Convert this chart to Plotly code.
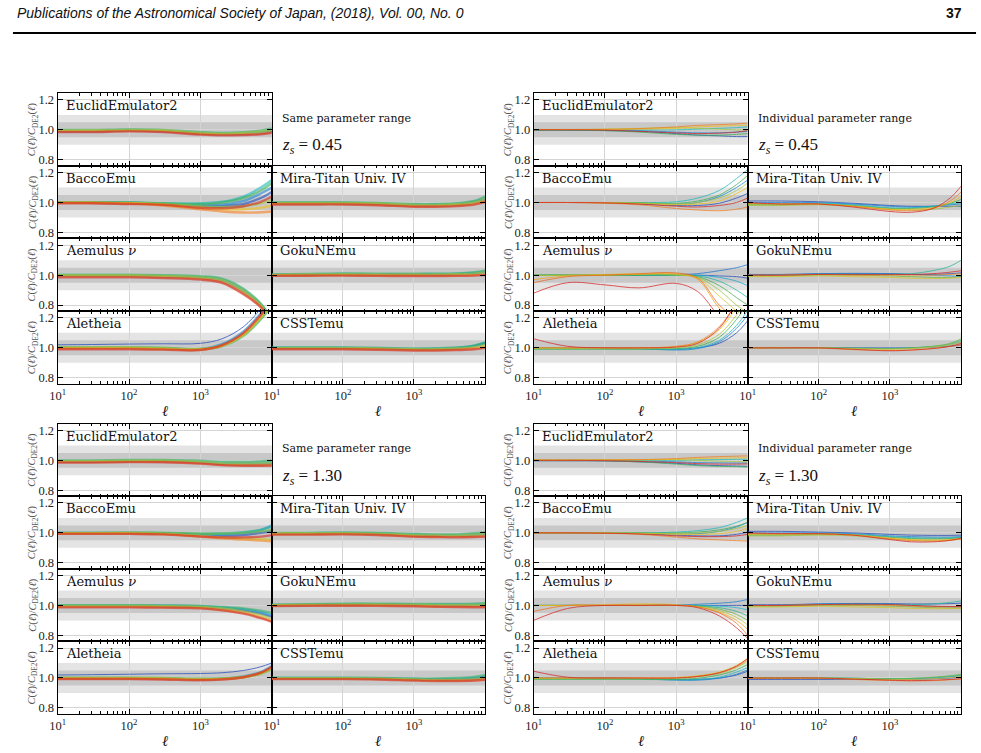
import plotly.graph_objects as go
from plotly.colors import sample_colorscale

# ---------------- data ----------------
ELL = [10, 30, 100, 300, 1000, 2000, 4000, 7000, 10000]
X_TICKS = [10, 100, 1000]
X_TICK_LABELS = ["10<sup>1</sup>", "10<sup>2</sup>", "10<sup>3</sup>"]
X_MINOR = [20, 30, 40, 50, 60, 70, 80, 90,
           200, 300, 400, 500, 600, 700, 800, 900,
           2000, 3000, 4000, 5000, 6000, 7000, 8000, 9000]
Y_TICKS = [0.8, 1.0, 1.2]
Y_TICK_LABELS = ["0.8", "1.0", "1.2"]
BAND_OUTER = [0.90, 1.10]
BAND_INNER = [0.95, 1.05]
EMULATORS = ["EuclidEmulator2", "BaccoEmu", "Mira-Titan Univ. IV", "Aemulus ν",
             "GokuNEmu", "Aletheia", "CSSTemu"]
BLOCK_TITLES = ["Same parameter range", "Individual parameter range",
                "Same parameter range", "Individual parameter range"]
BLOCK_ZS = ["0.45", "0.45", "1.30", "1.30"]

# ---- z_s = 0.45, same parameter range (lines ordered blue -> red)
EUCLID_SAME_Z045 = [
    [0.990, 0.990, 0.995, 0.990, 0.975, 0.970, 0.972, 0.978, 0.990],
    [0.995, 0.995, 1.000, 0.995, 0.980, 0.975, 0.978, 0.985, 0.995],
    [1.000, 1.000, 1.003, 1.000, 0.985, 0.980, 0.985, 0.995, 1.010],
    [0.995, 0.997, 1.000, 0.997, 0.980, 0.975, 0.980, 0.988, 1.000],
    [0.990, 0.990, 0.993, 0.990, 0.972, 0.968, 0.970, 0.975, 0.985],
    [0.985, 0.985, 0.990, 0.985, 0.968, 0.963, 0.965, 0.970, 0.980],
]
BACCO_SAME_Z045 = [
    [0.998, 0.998, 0.995, 0.988, 0.975, 0.975, 0.990, 1.030, 1.070],
    [1.000, 1.000, 0.998, 0.990, 0.980, 0.985, 1.010, 1.060, 1.100],
    [1.000, 1.000, 1.000, 0.995, 0.995, 1.005, 1.040, 1.100, 1.150],
    [1.000, 1.000, 1.000, 0.995, 0.990, 1.000, 1.030, 1.080, 1.130],
    [1.000, 1.000, 0.997, 0.990, 0.975, 0.970, 0.975, 0.995, 1.020],
    [0.998, 0.998, 0.995, 0.985, 0.965, 0.955, 0.955, 0.965, 0.980],
    [0.997, 0.997, 0.993, 0.980, 0.955, 0.940, 0.933, 0.935, 0.940],
    [0.995, 0.995, 0.990, 0.985, 0.965, 0.962, 0.975, 1.005, 1.040],
]
MIRA_SAME_Z045 = [
    [0.995, 0.995, 0.995, 0.990, 0.980, 0.980, 0.985, 1.000, 1.020],
    [0.998, 0.998, 0.998, 0.993, 0.985, 0.985, 0.990, 1.005, 1.030],
    [1.000, 1.000, 1.000, 0.997, 0.990, 0.990, 0.995, 1.010, 1.040],
    [0.997, 0.997, 0.997, 0.993, 0.983, 0.982, 0.988, 1.000, 1.025],
    [0.990, 0.990, 0.990, 0.985, 0.975, 0.975, 0.980, 0.990, 1.010],
    [0.987, 0.987, 0.987, 0.982, 0.972, 0.972, 0.976, 0.986, 1.003],
]
AEMULUS_SAME_Z045 = [
    [0.995, 0.995, 0.995, 0.990, 0.983, 0.962, 0.890, 0.800, 0.700],
    [1.000, 1.000, 1.000, 0.995, 0.988, 0.970, 0.900, 0.805, 0.700],
    [1.003, 1.003, 1.003, 1.000, 0.993, 0.977, 0.910, 0.810, 0.705],
    [1.000, 1.000, 1.000, 0.995, 0.986, 0.967, 0.895, 0.800, 0.700],
    [0.990, 0.990, 0.990, 0.985, 0.975, 0.954, 0.880, 0.790, 0.695],
    [0.985, 0.985, 0.985, 0.980, 0.970, 0.948, 0.872, 0.785, 0.690],
]
GOKU_SAME_Z045 = [
    [1.000, 1.002, 1.005, 1.003, 1.003, 1.003, 1.005, 1.010, 1.020],
    [1.003, 1.005, 1.008, 1.006, 1.007, 1.008, 1.010, 1.015, 1.025],
    [1.005, 1.008, 1.012, 1.010, 1.010, 1.010, 1.012, 1.020, 1.030],
    [1.002, 1.004, 1.006, 1.004, 1.004, 1.004, 1.006, 1.010, 1.020],
    [0.998, 0.998, 1.000, 0.998, 0.997, 0.997, 0.998, 1.000, 1.005],
    [0.995, 0.996, 0.997, 0.995, 0.994, 0.994, 0.995, 0.997, 1.000],
]
ALETHEIA_SAME_Z045 = [
    [1.020, 1.022, 1.025, 1.027, 1.030, 1.060, 1.140, 1.260, 1.350],
    [1.000, 1.000, 1.000, 0.997, 0.993, 1.025, 1.110, 1.230, 1.320],
    [1.000, 1.000, 1.000, 0.997, 0.990, 1.010, 1.080, 1.190, 1.280],
    [1.003, 1.003, 1.003, 1.000, 0.993, 1.015, 1.085, 1.195, 1.285],
    [1.000, 1.000, 1.000, 0.995, 0.990, 1.012, 1.085, 1.200, 1.290],
    [0.995, 0.995, 0.995, 0.990, 0.988, 1.015, 1.095, 1.215, 1.300],
    [0.990, 0.990, 0.990, 0.988, 0.985, 1.018, 1.100, 1.220, 1.310],
]
CSST_SAME_Z045 = [
    [0.998, 0.998, 0.998, 0.995, 0.990, 0.990, 0.995, 1.010, 1.030],
    [1.000, 1.000, 1.000, 0.997, 0.993, 0.995, 1.000, 1.015, 1.035],
    [1.002, 1.002, 1.002, 1.000, 0.995, 0.997, 1.002, 1.015, 1.035],
    [0.998, 0.998, 0.998, 0.996, 0.990, 0.990, 0.995, 1.005, 1.020],
    [0.993, 0.993, 0.993, 0.990, 0.985, 0.985, 0.988, 0.995, 1.005],
    [0.990, 0.990, 0.990, 0.987, 0.982, 0.982, 0.985, 0.990, 1.000],
]

# ---- z_s = 0.45, individual parameter range
EUCLID_INDIV_Z045 = [
    [0.997, 0.997, 0.995, 0.990, 0.975, 0.965, 0.960, 0.955, 0.955],
    [1.000, 1.000, 1.000, 0.995, 0.985, 0.980, 0.980, 0.985, 0.990],
    [1.000, 1.000, 1.000, 1.000, 1.000, 1.005, 1.010, 1.015, 1.020],
    [0.998, 0.998, 0.995, 0.985, 0.970, 0.965, 0.965, 0.970, 0.975],
    [1.003, 1.003, 1.005, 1.010, 1.015, 1.010, 1.005, 1.000, 1.000],
    [1.002, 1.002, 1.003, 1.005, 1.010, 1.020, 1.025, 1.030, 1.030],
    [1.002, 1.002, 1.003, 1.008, 1.020, 1.030, 1.035, 1.040, 1.045],
    [1.000, 1.000, 0.998, 0.990, 0.980, 0.975, 0.978, 0.985, 0.995],
]
BACCO_INDIV_Z045 = [
    [1.000, 1.000, 0.998, 0.990, 0.980, 0.980, 0.995, 1.030, 1.060],
    [1.000, 1.000, 1.000, 0.995, 0.990, 1.000, 1.040, 1.100, 1.150],
    [1.000, 1.000, 1.000, 1.000, 1.005, 1.030, 1.080, 1.160, 1.220],
    [1.000, 1.000, 1.000, 0.998, 0.995, 1.010, 1.050, 1.120, 1.180],
    [1.000, 1.000, 1.000, 0.997, 0.990, 1.000, 1.030, 1.080, 1.130],
    [1.000, 1.000, 0.998, 0.993, 0.985, 0.990, 1.010, 1.060, 1.100],
    [1.000, 1.000, 0.995, 0.985, 0.960, 0.950, 0.945, 0.955, 0.970],
    [1.000, 1.000, 0.998, 0.990, 0.975, 0.970, 0.980, 1.000, 1.030],
]
MIRA_INDIV_Z045 = [
    [1.010, 1.010, 1.005, 0.995, 0.980, 0.975, 0.975, 0.975, 0.975],
    [1.000, 1.000, 1.000, 0.990, 0.975, 0.970, 0.975, 0.985, 0.990],
    [0.990, 0.990, 0.995, 0.985, 0.965, 0.965, 0.975, 0.990, 1.000],
    [0.985, 0.985, 0.990, 0.980, 0.960, 0.960, 0.970, 0.995, 1.020],
    [0.980, 0.980, 0.985, 0.975, 0.955, 0.950, 0.955, 0.970, 0.980],
    [0.990, 0.990, 0.990, 0.975, 0.955, 0.955, 0.965, 1.000, 1.040],
    [0.995, 0.990, 0.990, 0.975, 0.950, 0.945, 0.960, 1.010, 1.070],
    [1.000, 0.990, 0.990, 0.970, 0.940, 0.935, 0.960, 1.030, 1.110],
]
AEMULUS_INDIV_Z045 = [
    [1.000, 1.000, 1.000, 1.000, 1.000, 1.000, 0.995, 0.990, 0.980],
    [1.000, 1.000, 1.000, 1.000, 1.005, 1.010, 1.030, 1.050, 1.070],
    [1.000, 1.000, 1.000, 1.000, 1.000, 1.000, 0.985, 0.960, 0.930],
    [1.000, 1.000, 1.000, 1.000, 1.000, 0.995, 0.960, 0.900, 0.850],
    [1.000, 1.000, 1.000, 1.000, 1.000, 0.990, 0.930, 0.850, 0.800],
    [1.000, 1.000, 1.000, 1.005, 1.000, 0.985, 0.900, 0.800, 0.750],
    [1.000, 1.000, 1.005, 1.010, 1.005, 0.980, 0.860, 0.760, 0.700],
    [0.970, 0.995, 1.000, 1.005, 1.010, 0.970, 0.780, 0.680, 0.600],
    [0.950, 0.990, 1.000, 1.010, 1.015, 0.980, 0.800, 0.700, 0.600],
    [0.880, 0.950, 0.935, 0.915, 0.945, 0.890, 0.720, 0.600, 0.550],
]
GOKU_INDIV_Z045 = [
    [1.005, 1.005, 1.010, 1.012, 1.010, 1.005, 1.005, 1.010, 1.015],
    [1.000, 1.000, 1.010, 1.010, 1.010, 1.005, 1.000, 0.995, 0.990],
    [1.000, 1.000, 1.005, 1.005, 1.005, 1.010, 1.030, 1.060, 1.100],
    [0.995, 0.995, 1.000, 1.000, 0.995, 0.990, 0.985, 0.985, 0.990],
    [0.990, 0.990, 0.995, 0.990, 0.985, 0.980, 0.978, 0.980, 0.985],
    [1.000, 1.000, 1.005, 1.000, 1.000, 1.000, 1.000, 1.005, 1.010],
    [1.000, 1.000, 1.005, 1.005, 1.005, 1.005, 1.010, 1.020, 1.030],
]
ALETHEIA_INDIV_Z045 = [
    [1.000, 1.000, 1.000, 0.997, 0.990, 1.000, 1.030, 1.100, 1.180],
    [1.000, 1.000, 1.000, 0.995, 0.985, 0.995, 1.040, 1.130, 1.220],
    [0.995, 0.995, 0.995, 0.993, 0.990, 1.000, 1.050, 1.150, 1.250],
    [0.990, 0.990, 0.990, 0.990, 0.995, 1.010, 1.070, 1.190, 1.300],
    [0.995, 0.995, 0.995, 0.995, 1.000, 1.020, 1.090, 1.220, 1.330],
    [1.000, 1.000, 1.000, 1.000, 1.008, 1.035, 1.120, 1.270, 1.380],
    [1.000, 1.000, 1.000, 1.000, 1.010, 1.040, 1.140, 1.300, 1.400],
    [1.060, 1.010, 1.000, 1.000, 1.005, 1.030, 1.130, 1.300, 1.400],
]
CSST_INDIV_Z045 = [
    [1.000, 1.000, 1.000, 1.000, 1.000, 1.000, 1.005, 1.010, 1.020],
    [1.000, 1.000, 1.000, 0.998, 0.995, 0.998, 1.005, 1.020, 1.040],
    [1.000, 1.000, 1.000, 0.997, 0.995, 1.000, 1.010, 1.025, 1.050],
    [1.002, 1.002, 1.000, 0.998, 0.995, 1.000, 1.010, 1.030, 1.060],
    [1.000, 1.000, 1.000, 0.995, 0.990, 0.995, 1.005, 1.020, 1.040],
    [0.998, 0.998, 0.998, 0.988, 0.982, 0.985, 0.995, 1.010, 1.020],
    [1.000, 1.000, 1.000, 0.990, 0.980, 0.985, 0.995, 1.010, 1.030],
]

# ---- z_s = 1.30, same parameter range
EUCLID_SAME_Z130 = [
    [0.990, 0.990, 0.993, 0.993, 0.985, 0.975, 0.973, 0.975, 0.978],
    [0.995, 0.995, 0.997, 0.997, 0.990, 0.980, 0.980, 0.983, 0.985],
    [1.000, 1.000, 1.002, 1.002, 0.997, 0.990, 0.990, 0.993, 0.997],
    [0.995, 0.995, 0.997, 0.997, 0.990, 0.980, 0.978, 0.980, 0.982],
    [0.988, 0.988, 0.990, 0.990, 0.980, 0.970, 0.967, 0.967, 0.968],
    [0.985, 0.985, 0.988, 0.987, 0.978, 0.968, 0.964, 0.964, 0.965],
]
BACCO_SAME_Z130 = [
    [0.998, 0.998, 0.998, 0.995, 0.985, 0.980, 0.985, 1.000, 1.010],
    [1.000, 1.000, 1.000, 0.998, 0.990, 0.990, 1.000, 1.020, 1.050],
    [1.000, 1.000, 1.000, 1.000, 0.995, 0.997, 1.005, 1.020, 1.040],
    [1.000, 1.000, 1.002, 1.000, 0.995, 0.995, 1.000, 1.010, 1.020],
    [0.997, 0.997, 0.997, 0.993, 0.980, 0.970, 0.965, 0.960, 0.955],
    [0.995, 0.995, 0.995, 0.990, 0.975, 0.963, 0.955, 0.948, 0.943],
    [0.993, 0.993, 0.993, 0.990, 0.975, 0.970, 0.970, 0.975, 0.985],
]
MIRA_SAME_Z130 = [
    [0.995, 0.995, 0.997, 0.993, 0.982, 0.980, 0.980, 0.985, 0.990],
    [0.998, 0.998, 1.000, 0.997, 0.987, 0.985, 0.985, 0.990, 0.997],
    [1.000, 1.000, 1.003, 1.000, 0.993, 0.990, 0.990, 0.997, 1.005],
    [0.997, 0.997, 0.998, 0.995, 0.985, 0.982, 0.982, 0.987, 0.992],
    [0.990, 0.990, 0.992, 0.988, 0.977, 0.974, 0.973, 0.975, 0.978],
    [0.988, 0.988, 0.990, 0.986, 0.975, 0.972, 0.970, 0.972, 0.975],
]
AEMULUS_SAME_Z130 = [
    [0.995, 0.995, 0.995, 0.993, 0.990, 0.980, 0.965, 0.945, 0.925],
    [1.000, 1.000, 1.000, 0.998, 0.995, 0.987, 0.975, 0.955, 0.935],
    [1.002, 1.002, 1.002, 1.000, 0.997, 0.990, 0.980, 0.965, 0.950],
    [0.997, 0.997, 0.997, 0.995, 0.990, 0.980, 0.960, 0.935, 0.910],
    [0.990, 0.990, 0.990, 0.988, 0.983, 0.970, 0.950, 0.920, 0.895],
    [0.987, 0.987, 0.987, 0.985, 0.980, 0.967, 0.945, 0.915, 0.890],
]
GOKU_SAME_Z130 = [
    [1.000, 1.003, 1.005, 1.005, 1.003, 1.000, 1.000, 1.000, 1.002],
    [1.003, 1.006, 1.008, 1.008, 1.007, 1.005, 1.005, 1.006, 1.008],
    [1.005, 1.008, 1.012, 1.012, 1.010, 1.010, 1.010, 1.012, 1.015],
    [1.002, 1.004, 1.006, 1.006, 1.004, 1.002, 1.002, 1.003, 1.005],
    [0.998, 1.000, 1.000, 1.000, 0.997, 0.994, 0.992, 0.991, 0.991],
    [0.995, 0.997, 0.998, 0.997, 0.994, 0.991, 0.989, 0.988, 0.988],
]
ALETHEIA_SAME_Z130 = [
    [1.020, 1.022, 1.025, 1.028, 1.030, 1.035, 1.050, 1.075, 1.100],
    [0.998, 0.998, 0.998, 0.996, 0.990, 0.995, 1.010, 1.040, 1.080],
    [1.000, 1.000, 1.000, 0.998, 0.993, 0.995, 1.005, 1.030, 1.060],
    [1.002, 1.002, 1.002, 1.000, 0.995, 0.997, 1.007, 1.030, 1.060],
    [0.998, 0.998, 0.998, 0.996, 0.990, 0.993, 1.005, 1.030, 1.065],
    [0.995, 0.995, 0.995, 0.993, 0.988, 0.992, 1.005, 1.035, 1.070],
    [0.993, 0.993, 0.993, 0.990, 0.985, 0.990, 1.005, 1.035, 1.075],
]
CSST_SAME_Z130 = [
    [0.998, 0.998, 0.998, 0.996, 0.990, 0.988, 0.990, 0.995, 1.005],
    [1.000, 1.000, 1.000, 0.998, 0.993, 0.992, 0.995, 1.000, 1.010],
    [1.002, 1.002, 1.002, 1.000, 0.996, 0.996, 1.000, 1.007, 1.018],
    [0.998, 0.998, 0.998, 0.996, 0.990, 0.987, 0.988, 0.992, 1.000],
    [0.994, 0.994, 0.994, 0.992, 0.985, 0.982, 0.982, 0.985, 0.990],
    [0.992, 0.992, 0.992, 0.990, 0.983, 0.980, 0.980, 0.983, 0.988],
]

# ---- z_s = 1.30, individual parameter range
EUCLID_INDIV_Z130 = [
    [0.997, 0.997, 0.996, 0.990, 0.980, 0.970, 0.965, 0.962, 0.960],
    [1.000, 1.000, 1.000, 0.997, 0.990, 0.985, 0.983, 0.982, 0.982],
    [1.000, 1.000, 1.000, 1.000, 1.000, 1.003, 1.005, 1.007, 1.008],
    [0.998, 0.998, 0.997, 0.990, 0.975, 0.965, 0.960, 0.958, 0.955],
    [1.003, 1.003, 1.003, 1.005, 1.005, 1.000, 0.995, 0.992, 0.990],
    [1.002, 1.002, 1.002, 1.003, 1.007, 1.012, 1.015, 1.017, 1.018],
    [1.002, 1.002, 1.003, 1.005, 1.012, 1.020, 1.025, 1.028, 1.030],
    [1.000, 1.000, 0.998, 0.993, 0.985, 0.978, 0.975, 0.975, 0.976],
]
BACCO_INDIV_Z130 = [
    [1.000, 1.000, 0.998, 0.994, 0.985, 0.980, 0.980, 0.990, 1.005],
    [1.000, 1.000, 1.000, 0.998, 0.993, 0.995, 1.010, 1.040, 1.070],
    [1.000, 1.000, 1.000, 1.000, 1.005, 1.015, 1.035, 1.070, 1.100],
    [1.000, 1.000, 1.000, 1.000, 1.000, 1.005, 1.020, 1.045, 1.070],
    [1.000, 1.000, 1.000, 0.998, 0.995, 1.000, 1.010, 1.030, 1.050],
    [1.000, 1.000, 0.999, 0.996, 0.990, 0.990, 0.995, 1.010, 1.030],
    [1.000, 1.000, 0.997, 0.990, 0.972, 0.960, 0.953, 0.948, 0.945],
    [1.000, 1.000, 0.998, 0.993, 0.980, 0.975, 0.975, 0.980, 0.990],
]
MIRA_INDIV_Z130 = [
    [1.010, 1.010, 1.005, 1.000, 0.990, 0.985, 0.983, 0.983, 0.985],
    [1.000, 1.000, 1.000, 0.995, 0.980, 0.975, 0.972, 0.972, 0.975],
    [0.990, 0.990, 0.995, 0.990, 0.975, 0.968, 0.965, 0.967, 0.972],
    [0.985, 0.985, 0.990, 0.987, 0.970, 0.962, 0.960, 0.962, 0.968],
    [0.980, 0.980, 0.985, 0.980, 0.960, 0.952, 0.950, 0.953, 0.958],
    [0.990, 0.990, 0.993, 0.987, 0.965, 0.955, 0.952, 0.955, 0.962],
    [0.995, 0.993, 0.993, 0.985, 0.960, 0.948, 0.945, 0.950, 0.960],
    [1.000, 0.995, 0.995, 0.985, 0.955, 0.940, 0.940, 0.950, 0.965],
]
AEMULUS_INDIV_Z130 = [
    [1.000, 1.000, 1.000, 1.000, 1.000, 1.000, 1.000, 1.000, 1.000],
    [1.000, 1.000, 1.000, 1.000, 1.003, 1.008, 1.015, 1.025, 1.040],
    [1.000, 1.000, 1.000, 1.000, 1.000, 1.000, 0.995, 0.985, 0.970],
    [1.000, 1.000, 1.000, 1.000, 1.000, 0.997, 0.985, 0.960, 0.930],
    [1.000, 1.000, 1.000, 1.000, 1.000, 0.995, 0.975, 0.940, 0.900],
    [1.000, 1.000, 1.000, 1.005, 1.000, 0.990, 0.965, 0.920, 0.870],
    [1.000, 1.000, 1.005, 1.010, 1.005, 0.990, 0.955, 0.900, 0.840],
    [0.960, 1.000, 1.000, 1.000, 1.000, 0.990, 0.950, 0.880, 0.800],
    [0.900, 0.980, 1.000, 1.000, 1.000, 0.985, 0.930, 0.850, 0.780],
]
GOKU_INDIV_Z130 = [
    [1.005, 1.005, 1.010, 1.013, 1.012, 1.010, 1.010, 1.012, 1.015],
    [1.000, 1.000, 1.010, 1.012, 1.010, 1.000, 0.995, 0.990, 0.990],
    [1.000, 1.000, 1.005, 1.005, 1.005, 1.005, 1.010, 1.020, 1.030],
    [0.995, 0.995, 1.000, 1.000, 0.995, 0.990, 0.985, 0.982, 0.982],
    [0.990, 0.990, 0.995, 0.990, 0.985, 0.980, 0.978, 0.978, 0.980],
    [1.000, 1.000, 1.005, 1.003, 1.000, 0.995, 0.990, 0.990, 0.990],
    [1.000, 1.000, 1.005, 1.008, 1.006, 1.000, 0.995, 0.993, 0.993],
]
ALETHEIA_INDIV_Z130 = [
    [1.000, 1.000, 1.000, 0.997, 0.990, 0.990, 1.000, 1.020, 1.045],
    [1.000, 1.000, 1.000, 0.995, 0.985, 0.985, 0.998, 1.025, 1.055],
    [0.995, 0.995, 0.995, 0.993, 0.988, 0.990, 1.005, 1.040, 1.070],
    [0.990, 0.990, 0.990, 0.990, 0.990, 0.998, 1.020, 1.055, 1.090],
    [0.995, 0.995, 0.995, 0.995, 0.997, 1.007, 1.030, 1.070, 1.110],
    [1.000, 1.000, 1.000, 1.000, 1.003, 1.015, 1.040, 1.085, 1.130],
    [1.000, 1.000, 1.000, 1.000, 1.002, 1.012, 1.035, 1.075, 1.120],
    [1.045, 1.005, 1.000, 1.000, 1.000, 1.010, 1.035, 1.080, 1.130],
]
CSST_INDIV_Z130 = [
    [0.990, 0.990, 0.990, 0.990, 0.990, 0.990, 0.995, 1.000, 1.005],
    [1.000, 1.000, 1.000, 0.998, 0.995, 0.995, 1.000, 1.008, 1.015],
    [1.000, 1.000, 1.000, 0.998, 0.995, 0.997, 1.003, 1.012, 1.020],
    [1.002, 1.002, 1.000, 0.998, 0.995, 0.998, 1.005, 1.015, 1.025],
    [1.000, 1.000, 1.000, 0.996, 0.990, 0.990, 0.995, 1.003, 1.010],
    [0.998, 0.998, 0.998, 0.990, 0.983, 0.980, 0.982, 0.988, 0.993],
    [1.000, 1.000, 1.000, 0.993, 0.985, 0.982, 0.985, 0.990, 0.995],
]

BLOCK_DATA = [
    [EUCLID_SAME_Z045, BACCO_SAME_Z045, MIRA_SAME_Z045, AEMULUS_SAME_Z045,
     GOKU_SAME_Z045, ALETHEIA_SAME_Z045, CSST_SAME_Z045],
    [EUCLID_INDIV_Z045, BACCO_INDIV_Z045, MIRA_INDIV_Z045, AEMULUS_INDIV_Z045,
     GOKU_INDIV_Z045, ALETHEIA_INDIV_Z045, CSST_INDIV_Z045],
    [EUCLID_SAME_Z130, BACCO_SAME_Z130, MIRA_SAME_Z130, AEMULUS_SAME_Z130,
     GOKU_SAME_Z130, ALETHEIA_SAME_Z130, CSST_SAME_Z130],
    [EUCLID_INDIV_Z130, BACCO_INDIV_Z130, MIRA_INDIV_Z130, AEMULUS_INDIV_Z130,
     GOKU_INDIV_Z130, ALETHEIA_INDIV_Z130, CSST_INDIV_Z130],
]

# ---------------- layout / style ----------------
W, H = 981, 753
PANEL_CELLS = [(0, 0), (1, 0), (1, 1), (2, 0), (2, 1), (3, 0), (3, 1)]
ROWS_TOP = [93.3, 166.0, 238.8, 311.5, 384.3]
ROWS_BOT = [424.3, 496.9, 569.5, 642.2, 714.8]
COLS_L = [50, 266, 481]
COLS_R = [530, 745.7, 961]
BLOCK_GEOM = [(COLS_L, ROWS_TOP, True), (COLS_R, ROWS_TOP, False),
              (COLS_L, ROWS_BOT, True), (COLS_R, ROWS_BOT, False)]
RAINBOW = [[0.0, "#2a2a9a"], [0.17, "#1f66d6"], [0.33, "#17bcd4"],
           [0.5, "#3cb04a"], [0.62, "#a9c83a"], [0.74, "#f0c419"],
           [0.87, "#f47d1c"], [1.0, "#d62728"]]
SERIF = "DejaVu Serif"
TICKFONT = dict(family="Liberation Serif", size=12.5, color="#222222")


def px(x):
    return x / W


def py(y):
    return 1 - y / H


fig = go.Figure()
layout = {}
shapes = []
annotations = []

k = 0
for b, (cols, rows, same) in enumerate(BLOCK_GEOM):
    for p, (r, c) in enumerate(PANEL_CELLS):
        k += 1
        sx = "" if k == 1 else str(k)
        xa, ya = "x" + sx, "y" + sx
        layout["xaxis" + sx] = dict(
            domain=[px(cols[c]), px(cols[c + 1])], anchor=ya, type="log",
            range=[1, 4], tickmode="array", tickvals=X_TICKS, ticktext=X_TICK_LABELS,
            showticklabels=(r == 3), ticks="inside", ticklen=5, tickwidth=1,
            tickcolor="black", showline=True, linecolor="black", linewidth=1,
            mirror="ticks", showgrid=True, gridcolor="#d4d4d4", gridwidth=1,
            zeroline=False, tickfont=TICKFONT,
            minor=dict(tickmode="array", tickvals=X_MINOR, ticks="inside",
                       ticklen=2.5, tickwidth=1, tickcolor="black", showgrid=False),
        )
        layout["yaxis" + sx] = dict(
            domain=[py(rows[r + 1]), py(rows[r])], anchor=xa,
            range=[0.76, 1.245], tickmode="array", tickvals=Y_TICKS,
            ticktext=Y_TICK_LABELS, showticklabels=(c == 0), ticks="inside",
            ticklen=5, tickwidth=1, tickcolor="black", showline=True,
            linecolor="black", linewidth=1, mirror="ticks", showgrid=True,
            gridcolor="#d4d4d4", gridwidth=1, zeroline=False, tickfont=TICKFONT,
        )
        for band, col in ((BAND_OUTER, "#e4e4e4"), (BAND_INNER, "#c8c8c8")):
            shapes.append(dict(type="rect", xref=xa + " domain", yref=ya,
                               x0=0, x1=1, y0=band[0], y1=band[1],
                               fillcolor=col, line=dict(width=0), layer="below"))
        lines = BLOCK_DATA[b][p]
        colors = sample_colorscale(RAINBOW, [0.1 + 0.9 * i / max(len(lines) - 1, 1)
                                            for i in range(len(lines))])
        for i, (vals, colr) in enumerate(zip(lines, colors)):
            thin = (not same) or (p == 5 and i == 0)
            fig.add_trace(go.Scatter(
                x=ELL, y=vals, xaxis=xa, yaxis=ya, mode="lines",
                line=dict(color=colr, width=1.0 if thin else 2.4,
                          shape="spline", smoothing=1.0),
                opacity=0.75 if thin else 0.6, hoverinfo="skip", showlegend=False))
        name = EMULATORS[p].replace("ν", "<i>ν</i>")
        annotations.append(dict(
            text=name, xref=xa + " domain", yref=ya + " domain", x=0.03,
            y=1 - 12.5 / 72.7, xanchor="left", yanchor="middle", showarrow=False,
            font=dict(family=SERIF, size=13, color="#111111")))
        if c == 0:
            ymid = (rows[r] + rows[r + 1]) / 2
            annotations.append(dict(
                text="<i>C</i>(<i>ℓ</i>)/<i>C</i><sub>DE2</sub>(<i>ℓ</i>)",
                xref="paper", yref="paper", x=px(cols[0] - 25), y=py(ymid),
                textangle=-90, showarrow=False, xanchor="center", yanchor="middle",
                font=dict(family="Liberation Serif", size=10.5, color="#555555")))
    # block text cell
    annotations.append(dict(
        text=BLOCK_TITLES[b], xref="paper", yref="paper", x=px(cols[1] + 8),
        y=py(rows[0] + 25), xanchor="left", yanchor="middle", showarrow=False,
        font=dict(family=SERIF, size=11, color="#111111")))
    annotations.append(dict(
        text="<i>z<sub>s</sub></i> = " + BLOCK_ZS[b], xref="paper", yref="paper",
        x=px(cols[1] + 8), y=py(rows[0] + 53), xanchor="left", yanchor="middle",
        showarrow=False, font=dict(family="Liberation Serif", size=17, color="#111111")))
    for c in (0, 1):
        annotations.append(dict(
            text="<i>ℓ</i>", xref="paper", yref="paper",
            x=px((cols[c] + cols[c + 1]) / 2), y=py(rows[4] + 27),
            xanchor="center", yanchor="middle", showarrow=False,
            font=dict(family="Liberation Serif", size=15, color="#111111")))

# page header
annotations.append(dict(
    text="<i>Publications of the Astronomical Society of Japan, (2018), Vol. 00, No. 0</i>",
    xref="paper", yref="paper", x=px(7), y=py(13), xanchor="left", yanchor="middle",
    showarrow=False, font=dict(family="Liberation Sans", size=14, color="#111111")))
annotations.append(dict(
    text="<b>37</b>", xref="paper", yref="paper", x=px(964), y=py(13),
    xanchor="right", yanchor="middle", showarrow=False,
    font=dict(family="Liberation Sans", size=14, color="#111111")))
shapes.append(dict(type="line", xref="paper", yref="paper", x0=px(5), x1=px(976),
                   y0=py(33), y1=py(33), line=dict(color="black", width=2)))

fig.update_layout(
    width=W, height=H, margin=dict(l=0, r=0, t=0, b=0, pad=0),
    paper_bgcolor="white", plot_bgcolor="white", showlegend=False,
    shapes=shapes, annotations=annotations, **layout)

fig.write_html("out.html")
